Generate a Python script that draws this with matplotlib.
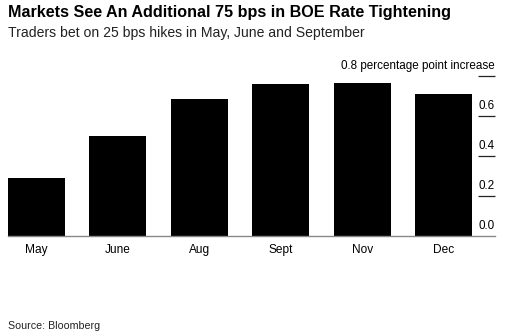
import matplotlib.pyplot as plt
import matplotlib.transforms as mtransforms

months = ['May', 'June', 'Aug', 'Sept', 'Nov', 'Dec']
hikes = [0.288, 0.50, 0.685, 0.762, 0.766, 0.71]  # cumulative pp increase
yticks = [0.0, 0.2, 0.4, 0.6, 0.8]

plt.rcParams['font.family'] = ['Liberation Sans', 'DejaVu Sans']

fig = plt.figure(figsize=(5.15, 3.35), dpi=100)
ax = fig.add_axes([8 / 515, 1 - 236 / 335, 487 / 515, 160 / 335])

x = list(range(len(months)))
ax.bar(x, hikes, width=0.7, color='black', zorder=2)
ax.set_xlim(-0.35, 5.63)
ax.set_ylim(0, 0.8)

for s in ['top', 'left', 'right']:
    ax.spines[s].set_visible(False)
ax.spines['bottom'].set_color('#888888')
ax.spines['bottom'].set_linewidth(1.0)
ax.spines['bottom'].set_zorder(3)

ax.set_xticks(x)
ax.set_xticklabels(months, fontsize=8.6)
ax.tick_params(axis='x', length=0, pad=5.5, colors='black')

# right-side ticks drawn as short lines, labels sitting above
ax.yaxis.tick_right()
ax.set_yticks(yticks[1:])
ax.set_yticklabels([])
ax.tick_params(axis='y', direction='in', length=12.5, width=0.9, color='#222222')

trans = mtransforms.blended_transform_factory(ax.transAxes, ax.transData)
for v in yticks:
    lab = f"{v:.1f}"
    if v == 0.8:
        lab = "0.8 percentage point increase"
    ax.text(1.0, v + 0.02, lab, transform=trans, ha='right', va='bottom', fontsize=8.4)

fig.text(8 / 515, 1 - 13 / 335, 'Markets See An Additional 75 bps in BOE Rate Tightening',
         fontsize=11.6, fontweight='bold', va='center', ha='left')
fig.text(8 / 515, 1 - 33 / 335, 'Traders bet on 25 bps hikes in May, June and September',
         fontsize=10.05, va='center', ha='left', color='#222222')
fig.text(8 / 515, 1 - 326 / 335, 'Source: Bloomberg', fontsize=7.7, va='center', ha='left',
         color='#222222')

fig.savefig('out.png', dpi=100)
